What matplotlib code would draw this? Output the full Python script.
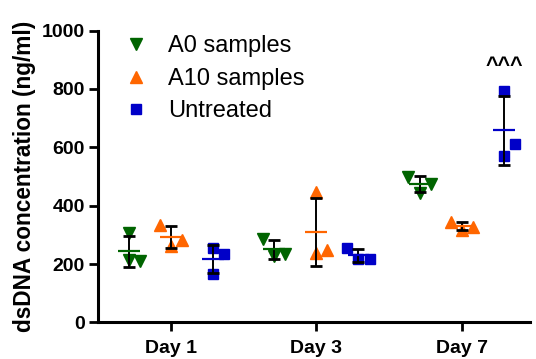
import matplotlib
matplotlib.use("Agg")
import matplotlib.pyplot as plt
from matplotlib.lines import Line2D
import numpy as np

# dsDNA concentration (ng/ml), three replicates per group
days = ["Day 1", "Day 3", "Day 7"]
groups = ["A0 samples", "A10 samples", "Untreated"]
a0_vals = [[306, 214, 211], [287, 228, 236], [499, 444, 476]]
a10_vals = [[334, 262, 284], [446, 239, 249], [344, 317, 327]]
untreated_vals = [[256, 235, 165], [256, 216, 218], [793, 611, 571]]
annot = "^^^"

# layout / style
offsets = [-0.29, 0.0, 0.29]
jitter = {
    "A0 samples": [[0, 0, 1], [-1, 0, 1], [-1, 0, 1]],
    "A10 samples": [[-1, 0, 1], [0, 0, 1], [-1, 0, 1]],
    "Untreated": [[0, 1, 0], [-1, 0, 1], [0, 1, 0]],
}
jit_step = 0.076
colors = ["#006400", "#FF6600", "#0000C8"]
markers = ["v", "^", "s"]
msizes = [8.5, 8.5, 7.2]

plt.rcParams["font.family"] = "Liberation Sans"

fig = plt.figure(figsize=(5.36, 3.59), dpi=100)
ax = fig.add_axes([0.183, 0.1017, 0.806, 0.8133])

data = [a0_vals, a10_vals, untreated_vals]
for g, (name, vals) in enumerate(zip(groups, data)):
    for d in range(len(days)):
        y = np.array(vals[d], dtype=float)
        xc = d + offsets[g]
        xs = xc + np.array(jitter[name][d]) * jit_step
        ax.plot(xs, y, linestyle="none", marker=markers[g], ms=msizes[g],
                color=colors[g], zorder=3)
        m, sd = y.mean(), y.std(ddof=1)
        ax.errorbar(xc, m, yerr=sd, fmt="none", ecolor="black", elinewidth=1.4,
                    capsize=4, capthick=2, zorder=4)
        ax.hlines(m, xc - 0.075, xc + 0.075, color=colors[g], lw=1.6, zorder=5)

ax.text(2 + offsets[2], 858, annot, ha="center", va="baseline",
        fontsize=15.5, fontweight="bold")

ax.set_xlim(-0.5, 2.47)
ax.set_ylim(0, 1000)
ax.set_yticks(range(0, 1001, 200))
ax.set_xticks(range(len(days)))
ax.set_xticklabels(days)
for lab in ax.get_xticklabels() + ax.get_yticklabels():
    lab.set_fontweight("bold")
    lab.set_fontsize(14)
ax.tick_params(axis="both", width=2, length=6.5, pad=3)
ax.tick_params(axis="x", pad=6)
ax.spines["top"].set_visible(False)
ax.spines["right"].set_visible(False)
ax.spines["left"].set_linewidth(2.2)
ax.spines["bottom"].set_linewidth(2.2)
ax.set_ylabel("dsDNA concentration (ng/ml)", fontsize=16.3, fontweight="bold",
              labelpad=4)

handles = [Line2D([], [], linestyle="none", marker=markers[i], ms=msizes[i] - 0.5,
                  color=colors[i]) for i in range(3)]
ax.legend(handles, groups, loc="upper left", bbox_to_anchor=(0.21, 0.935),
          bbox_transform=fig.transFigure, frameon=False, fontsize=17,
          handlelength=1.0, handletextpad=0.85, labelspacing=0.45, borderpad=0)

fig.savefig("out.png", dpi=100)
